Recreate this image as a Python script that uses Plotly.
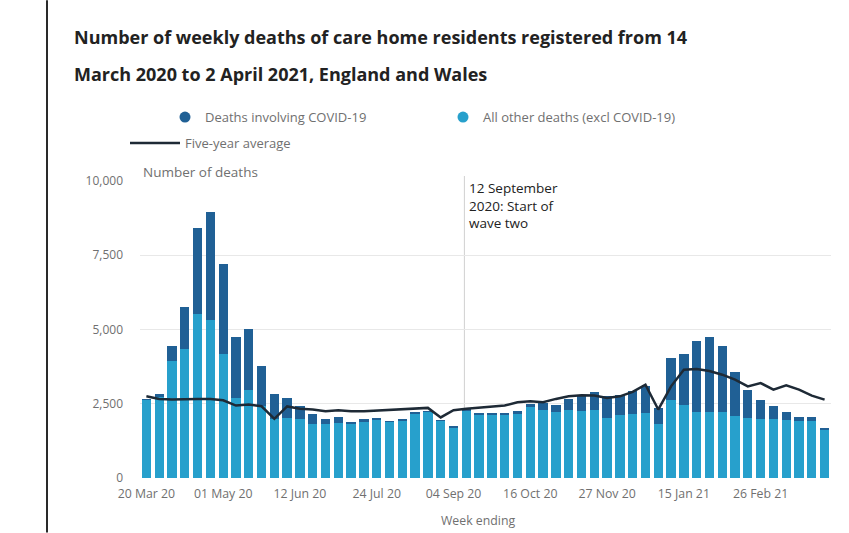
import plotly.graph_objects as go

# ---------------- data ----------------
weeks = [
    "20 Mar 20", "27 Mar 20", "03 Apr 20", "10 Apr 20", "17 Apr 20", "24 Apr 20",
    "01 May 20", "08 May 20", "15 May 20", "22 May 20", "29 May 20", "05 Jun 20",
    "12 Jun 20", "19 Jun 20", "26 Jun 20", "03 Jul 20", "10 Jul 20", "17 Jul 20",
    "24 Jul 20", "31 Jul 20", "07 Aug 20", "14 Aug 20", "21 Aug 20", "28 Aug 20",
    "04 Sep 20", "11 Sep 20", "18 Sep 20", "25 Sep 20", "02 Oct 20", "09 Oct 20",
    "16 Oct 20", "23 Oct 20", "30 Oct 20", "06 Nov 20", "13 Nov 20", "20 Nov 20",
    "27 Nov 20", "04 Dec 20", "11 Dec 20", "18 Dec 20", "25 Dec 20", "08 Jan 21",
    "15 Jan 21", "22 Jan 21", "29 Jan 21", "05 Feb 21", "12 Feb 21", "19 Feb 21",
    "26 Feb 21", "05 Mar 21", "12 Mar 21", "19 Mar 21", "26 Mar 21", "02 Apr 21",
]

other_deaths = [
    2640, 2730, 3923, 4360, 5520, 5320, 4180, 2697, 2975, 2415, 2000, 2030,
    1970, 1826, 1826, 1860, 1830, 1895, 1970, 1890, 1950, 2170, 2230, 1920,
    1710, 2285, 2140, 2130, 2130, 2170, 2380, 2305, 2214, 2305, 2248, 2305,
    2027, 2137, 2170, 2194, 1802, 2640, 2472, 2214, 2214, 2214, 2080, 2027,
    2003, 2003, 1947, 1913, 1930, 1640,
]

covid_deaths = [
    10, 90, 526, 1385, 2905, 3628, 3039, 2064, 2033, 1341, 841, 667,
    445, 344, 167, 200, 30, 75, 67, 23, 43, 24, 18, 16,
    15, 20, 30, 40, 64, 78, 100, 224, 235, 358, 502, 580,
    747, 670, 749, 915, 559, 1396, 1708, 2413, 2547, 2235, 1488, 925,
    637, 436, 281, 147, 130, 52,
]

five_year_avg = [
    2750, 2663, 2640, 2663, 2663, 2663, 2616, 2439, 2472, 2415, 1993, 2410,
    2330, 2305, 2250, 2280, 2250, 2250, 2270, 2280, 2305, 2328, 2361, 2040,
    2282, 2328, 2361, 2395, 2439, 2550, 2583, 2550, 2663, 2750, 2784, 2780,
    2697, 2750, 2900, 3142, 2305, 3086, 3645, 3668, 3605, 3478, 3310, 3086,
    3198, 2975, 3120, 2975, 2774, 2640,
]

tick_labels = weeks[::6]
y_ticks = [0, 2500, 5000, 7500, 10000]

wave_two_week = "11 Sep 20"

# ---------------- styling ----------------
W, H = 849, 533
ML, MR, MT, MB = 140, 18, 181, 54.5
PW, PH = W - ML - MR, H - MT - MB

DARK = "#206095"
LIGHT = "#27a0cc"
LINE = "#1e2a36"
GRAY = "#707070"
FONT = "Open Sans"


def px_x(p):
    return (p - ML) / PW


def px_y(p):
    return (H - MB - p) / PH


fig = go.Figure()

fig.add_bar(x=weeks, y=other_deaths, marker=dict(color=LIGHT, line_width=0),
            name="All other deaths (excl COVID-19)", showlegend=False)
fig.add_bar(x=weeks, y=covid_deaths, marker=dict(color=DARK, line_width=0),
            name="Deaths involving COVID-19", showlegend=False)
fig.add_scatter(x=weeks, y=five_year_avg, mode="lines",
                line=dict(color=LINE, width=2.5),
                name="Five-year average", legend="legend2")

# legend entries drawn as circles
fig.add_scatter(x=[None], y=[None], mode="markers",
                marker=dict(color=DARK, size=11),
                name="Deaths involving COVID-19", legend="legend")
fig.add_scatter(x=[None], y=[None], mode="markers",
                marker=dict(color=LIGHT, size=11),
                name="All other deaths (excl COVID-19)", legend="legend")

wave_x = weeks.index(wave_two_week) - 0.15
fig.add_shape(type="line", xref="x", yref="paper", x0=wave_x, x1=wave_x,
              y0=0, y1=px_y(176), line=dict(color="#d0d0d0", width=1),
              layer="below")

# left page border
fig.add_shape(type="line", xref="paper", yref="paper", x0=px_x(47), x1=px_x(47),
              y0=px_y(533), y1=px_y(0), line=dict(color="#2a2a2a", width=2))

annotations = [
    dict(text="<b>Number of weekly deaths of care home residents registered from 14</b>",
         x=px_x(72), y=px_y(37), xanchor="left", yanchor="middle",
         font=dict(size=18, color="#222222")),
    dict(text="<b>March 2020 to 2 April 2021, England and Wales</b>",
         x=px_x(72), y=px_y(74), xanchor="left", yanchor="middle",
         font=dict(size=18, color="#222222")),
    dict(text="Number of deaths", x=px_x(141), y=px_y(172), xanchor="left",
         yanchor="middle", font=dict(size=13.5, color=GRAY)),
    dict(text="Week ending", x=px_x(478), y=px_y(521), xanchor="center",
         yanchor="middle", font=dict(size=12.3, color=GRAY)),
    dict(text="12 September<br>2020: Start of<br>wave two", x=px_x(467), y=px_y(177),
         xanchor="left", yanchor="top", align="left",
         font=dict(size=13.5, color="#222222")),
]
for a in annotations:
    a.update(xref="paper", yref="paper", showarrow=False)

fig.update_layout(
    width=W, height=H,
    margin=dict(l=ML, r=MR, t=MT, b=MB, pad=0),
    paper_bgcolor="white", plot_bgcolor="white",
    font=dict(family=FONT, color=GRAY),
    barmode="stack", bargap=0.27,
    annotations=annotations,
    legend=dict(orientation="h", x=px_x(165), y=px_y(102), xanchor="left",
                yanchor="top", entrywidth=233, entrywidthmode="pixels",
                traceorder="normal",
                font=dict(size=13, color=GRAY), bgcolor="rgba(0,0,0,0)"),
    legend2=dict(orientation="h", x=px_x(125), y=px_y(128), xanchor="left",
                 yanchor="top", itemwidth=50,
                 font=dict(size=13, color=GRAY),
                 bgcolor="rgba(0,0,0,0)"),
    xaxis=dict(type="category", categoryorder="array", categoryarray=weeks,
               tickmode="array", tickvals=tick_labels, ticktext=tick_labels,
               showgrid=False, showline=False, ticks="", tickangle=0,
               tickfont=dict(size=12.3, color=GRAY), ticklabelstandoff=7,
               range=[-0.5, len(weeks) - 0.5]),
    yaxis=dict(range=[0, 10000], tickvals=y_ticks, tickformat=",",
               showgrid=True, gridcolor="#e8e8e8", gridwidth=1,
               zeroline=False, showline=False, ticks="",
               tickfont=dict(size=12, color=GRAY), ticklabelstandoff=16),
    showlegend=True,
)

fig.write_html("out.html")
